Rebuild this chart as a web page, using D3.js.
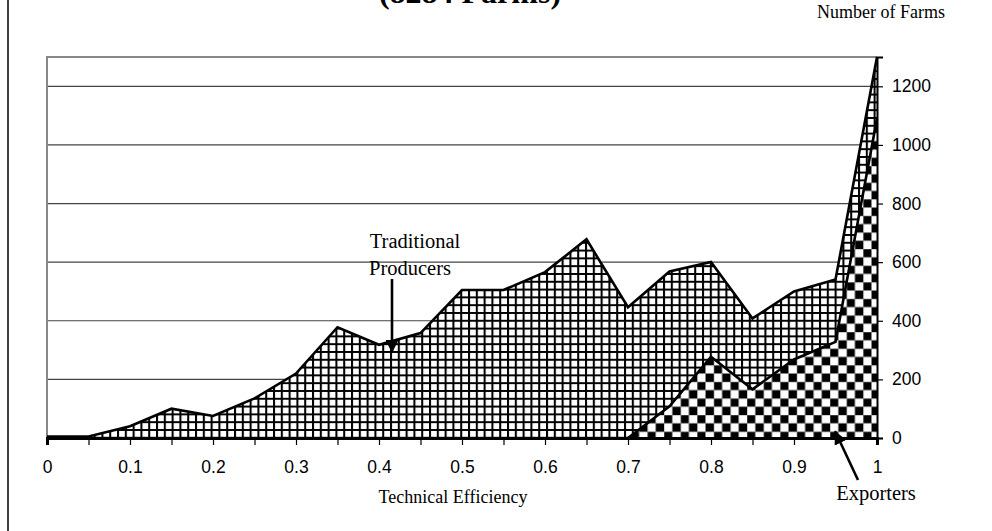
<!DOCTYPE html>
<html>
<head>
<meta charset="utf-8">
<script src="https://cdn.jsdelivr.net/npm/d3@7"></script>
<style>
  body { margin: 0; background: #fff; }
  svg { display: block; }
</style>
</head>
<body>
<div id="chart"></div>
<script>
// данные (число хозяйств по интервалам эффективности)
var efficiency = [0, 0.05, 0.1, 0.15, 0.2, 0.25, 0.3, 0.35, 0.4, 0.45, 0.5,
    0.55, 0.6, 0.65, 0.7, 0.75, 0.8, 0.85, 0.9, 0.95, 1];
var traditional = [5, 5, 40, 100, 75, 135, 220, 378, 318, 358, 505,
    505, 566, 678, 446, 568, 601, 408, 500, 541, 1300];
var exporters = [0, 0, 0, 0, 0, 0, 0, 0, 0, 0, 0,
    0, 0, 0, 0, 108, 277, 166, 268, 328, 1090];
var yTicks = [0, 200, 400, 600, 800, 1000, 1200];
var xTicks = [0, 0.05, 0.1, 0.15, 0.2, 0.25, 0.3, 0.35, 0.4, 0.45, 0.5,
    0.55, 0.6, 0.65, 0.7, 0.75, 0.8, 0.85, 0.9, 0.95, 1];
var xLabels = ['0', '', '0.1', '', '0.2', '', '0.3', '', '0.4', '', '0.5',
    '', '0.6', '', '0.7', '', '0.8', '', '0.9', '', '1'];

var width = 992, height = 531;
var svg = d3.select('#chart')
    .append('svg')
    .attr('width', width)
    .attr('height', height);

var x = d3.scaleLinear().domain([0, 1]).range([47, 877]);
var y = d3.scaleLinear().domain([0, 1300]).range([438, 57]);

// узоры заливки: сетка и шахматка
var defs = svg.append('defs');
var grid = defs.append('pattern')
    .attr('id', 'grid')
    .attr('patternUnits', 'userSpaceOnUse')
    .attr('width', 7.8).attr('height', 7.8);
grid.append('rect').attr('width', 7.8).attr('height', 7.8).attr('fill', '#fff');
grid.append('path')
    .attr('d', 'M1,0V7.8M0,1H7.8')
    .attr('stroke', '#000').attr('stroke-width', 2.1);

var checker = defs.append('pattern')
    .attr('id', 'checker')
    .attr('patternUnits', 'userSpaceOnUse')
    .attr('width', 16.6).attr('height', 16.6);
checker.append('rect').attr('width', 16.6).attr('height', 16.6).attr('fill', '#fff');
checker.append('rect').attr('width', 8.3).attr('height', 8.3).attr('fill', '#000');
checker.append('rect').attr('x', 8.3).attr('y', 8.3).attr('width', 8.3).attr('height', 8.3).attr('fill', '#000');
checker.append('path')
    .attr('d', 'M0,0H16.6M0,8.3H16.6M0,0V16.6M8.3,0V16.6')
    .attr('stroke', '#888').attr('stroke-width', 0.8);

// рамка диаграммы (видна только левая сторона)
svg.append('line')
    .attr('x1', 8).attr('x2', 8)
    .attr('y1', 0).attr('y2', height)
    .attr('stroke', '#000').attr('stroke-width', 1.5);

// заголовок, обрезанный сверху, как на исходной картинке
svg.append('text')
    .attr('x', 470).attr('y', 3)
    .attr('text-anchor', 'middle')
    .style('font-family', '"Liberation Serif", "Times New Roman", serif')
    .style('font-weight', 'bold')
    .style('font-size', '32px')
    .text('(8284 Farms)');

// линии сетки
svg.selectAll('.gridline')
    .data(yTicks.slice(1))
    .enter()
    .append('line')
    .attr('class', 'gridline')
    .attr('x1', x(0)).attr('x2', x(1))
    .attr('y1', function (d) { return y(d); })
    .attr('y2', function (d) { return y(d); })
    .attr('stroke', '#444').attr('stroke-width', 1.2);

// граница области построения
svg.append('path')
    .attr('d', 'M' + x(1) + ',' + y(1300) + 'H' + x(0) + 'V' + y(0))
    .attr('fill', 'none')
    .attr('stroke', '#888').attr('stroke-width', 2);

var area = function (values) {
    return d3.area()
        .x(function (d, i) { return x(efficiency[i]); })
        .y0(y(0))
        .y1(function (d) { return d; })(values.map(function (v) { return y(v); }));
};
var line = d3.line()
    .x(function (d) { return x(d[0]); })
    .y(function (d) { return y(d[1]); });

svg.append('path')
    .attr('d', area(traditional))
    .attr('fill', 'url(#grid)');
svg.append('path')
    .attr('d', line(efficiency.map(function (e, i) { return [e, traditional[i]]; })))
    .attr('fill', 'none')
    .attr('stroke', '#000').attr('stroke-width', 2.6)
    .attr('stroke-linejoin', 'miter');

svg.append('path')
    .attr('d', area(exporters))
    .attr('fill', 'url(#checker)');
svg.append('path')
    .attr('d', line(efficiency.map(function (e, i) { return [e, exporters[i]]; }).slice(14)))
    .attr('fill', 'none')
    .attr('stroke', '#000').attr('stroke-width', 2.6);

// оси
var xAxis = d3.axisBottom(x)
    .tickValues(xTicks)
    .tickSize(7)
    .tickPadding(16)
    .tickFormat(function (d, i) { return xLabels[i]; });
var gx = svg.append('g')
    .attr('transform', 'translate(0,' + y(0) + ')')
    .call(xAxis);
gx.select('.domain').attr('stroke', '#000').attr('stroke-width', 3);
gx.selectAll('line').attr('stroke', '#000').attr('stroke-width', 1.2);
gx.selectAll('text')
    .style('font-family', '"Liberation Sans", Arial, sans-serif')
    .style('font-size', '17.5px')
    .attr('fill', '#000');

var yAxis = d3.axisRight(y)
    .tickValues(yTicks)
    .tickSize(6)
    .tickPadding(9)
    .tickFormat(d3.format('d'));
var gy = svg.append('g')
    .attr('transform', 'translate(' + x(1) + ',0)')
    .call(yAxis);
gy.select('.domain').attr('stroke', '#000').attr('stroke-width', 2);
gy.selectAll('line').attr('stroke', '#000').attr('stroke-width', 1.2);
gy.selectAll('text')
    .style('font-family', '"Liberation Sans", Arial, sans-serif')
    .style('font-size', '17.5px')
    .attr('fill', '#000');

var serif = '"Liberation Serif", "Times New Roman", serif';
svg.append('text')
    .attr('x', 945).attr('y', 18)
    .attr('text-anchor', 'end')
    .style('font-family', serif).style('font-size', '18px')
    .text('Number of Farms');
svg.append('text')
    .attr('x', 453).attr('y', 503)
    .attr('text-anchor', 'middle')
    .style('font-family', serif).style('font-size', '18px')
    .text('Technical Efficiency');

// подписи со стрелками
svg.append('marker')
    .attr('id', 'arrow')
    .attr('viewBox', '0 0 10 10')
    .attr('refX', 10).attr('refY', 5)
    .attr('markerWidth', 5).attr('markerHeight', 5)
    .attr('markerUnits', 'strokeWidth')
    .attr('orient', 'auto')
    .append('path')
    .attr('d', 'M0,0L10,5L0,10Z')
    .attr('fill', '#000');

svg.append('text')
    .attr('x', 415).attr('y', 248)
    .attr('text-anchor', 'middle')
    .style('font-family', serif).style('font-size', '20.5px')
    .text('Traditional');
svg.append('text')
    .attr('x', 410).attr('y', 275)
    .attr('text-anchor', 'middle')
    .style('font-family', serif).style('font-size', '20.5px')
    .text('Producers');
svg.append('line')
    .attr('x1', 392).attr('y1', 279)
    .attr('x2', 392).attr('y2', 353)
    .attr('stroke', '#000').attr('stroke-width', 2.6)
    .attr('marker-end', 'url(#arrow)');

svg.append('text')
    .attr('x', 876).attr('y', 500)
    .attr('text-anchor', 'middle')
    .style('font-family', serif).style('font-size', '20.5px')
    .text('Exporters');
svg.append('line')
    .attr('x1', 858).attr('y1', 480)
    .attr('x2', 835).attr('y2', 431)
    .attr('stroke', '#000').attr('stroke-width', 2.6)
    .attr('marker-end', 'url(#arrow)');
</script>
</body>
</html>
